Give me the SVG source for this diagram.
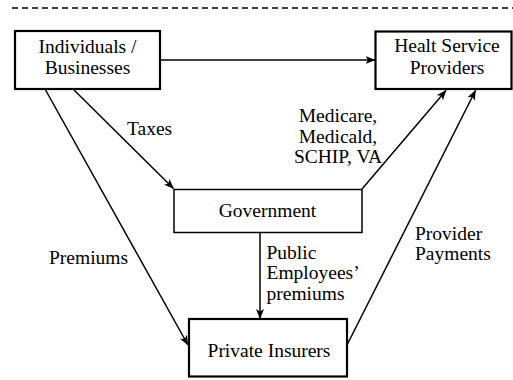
<svg xmlns="http://www.w3.org/2000/svg" width="513" height="380" viewBox="0 0 513 380">
<defs>
<marker id="ah" viewBox="0 0 10 8" refX="9.5" refY="4" markerWidth="10" markerHeight="8" markerUnits="userSpaceOnUse" orient="auto">
<path d="M0,0 L10,4 L0,8 L2.5,4 z" fill="#000"/>
</marker>
</defs>
<style>
text{font-family:"Liberation Serif","Times New Roman",serif;font-size:19.5px;fill:#000}
.c{text-anchor:middle}
.bx{fill:#fff;stroke:#000;stroke-width:2.2}
.bt{fill:#fff;stroke:#000;stroke-width:1.5}
.ln{fill:none;stroke:#000;stroke-width:1.5;marker-end:url(#ah)}
</style>
<rect width="513" height="380" fill="#fff"/>
<line x1="12" y1="8" x2="513" y2="8" stroke="#000" stroke-width="1.4" stroke-dasharray="6,4"/>
<g id="connectors">
<line class="ln" x1="160" y1="60" x2="375" y2="60"/>
<line class="ln" x1="73" y1="89" x2="173.5" y2="188.5"/>
<line class="ln" x1="45" y1="89" x2="188" y2="345"/>
<line class="ln" x1="260" y1="233" x2="260" y2="318.5"/>
<line class="ln" x1="362" y1="189" x2="446" y2="90.5"/>
<line class="ln" x1="347" y1="345" x2="475.5" y2="90.5"/>
</g>
<g id="edge-labels">
<text x="127" y="135">Taxes</text>
<text class="c" x="338" y="122">Medicare,</text>
<text class="c" x="338" y="142.5">Medicald,</text>
<text class="c" x="338" y="163">SCHIP, VA</text>
<text x="266.5" y="258.5">Public</text>
<text x="266.5" y="279">Employees’</text>
<text x="266.5" y="299.5">premiums</text>
<text x="49" y="263.5">Premiums</text>
<text x="415" y="239.5">Provider</text>
<text x="415" y="260">Payments</text>
</g>
<g id="individuals">
<rect class="bx" x="15" y="31" width="145" height="58"/>
<text class="c" x="87.5" y="53">Individuals /</text>
<text class="c" x="87.5" y="73.5">Businesses</text>
</g>
<g id="providers">
<rect class="bx" x="375.5" y="31.5" width="136" height="57.5"/>
<text class="c" x="447" y="52">Healt Service</text>
<text class="c" x="447" y="73.5">Providers</text>
</g>
<g id="government">
<rect class="bt" x="174" y="189.5" width="188" height="43"/>
<text class="c" x="267.5" y="217">Government</text>
</g>
<g id="insurers">
<rect class="bx" x="189" y="319" width="158" height="57.5"/>
<text class="c" x="269" y="356.5">Private Insurers</text>
</g>
</svg>
